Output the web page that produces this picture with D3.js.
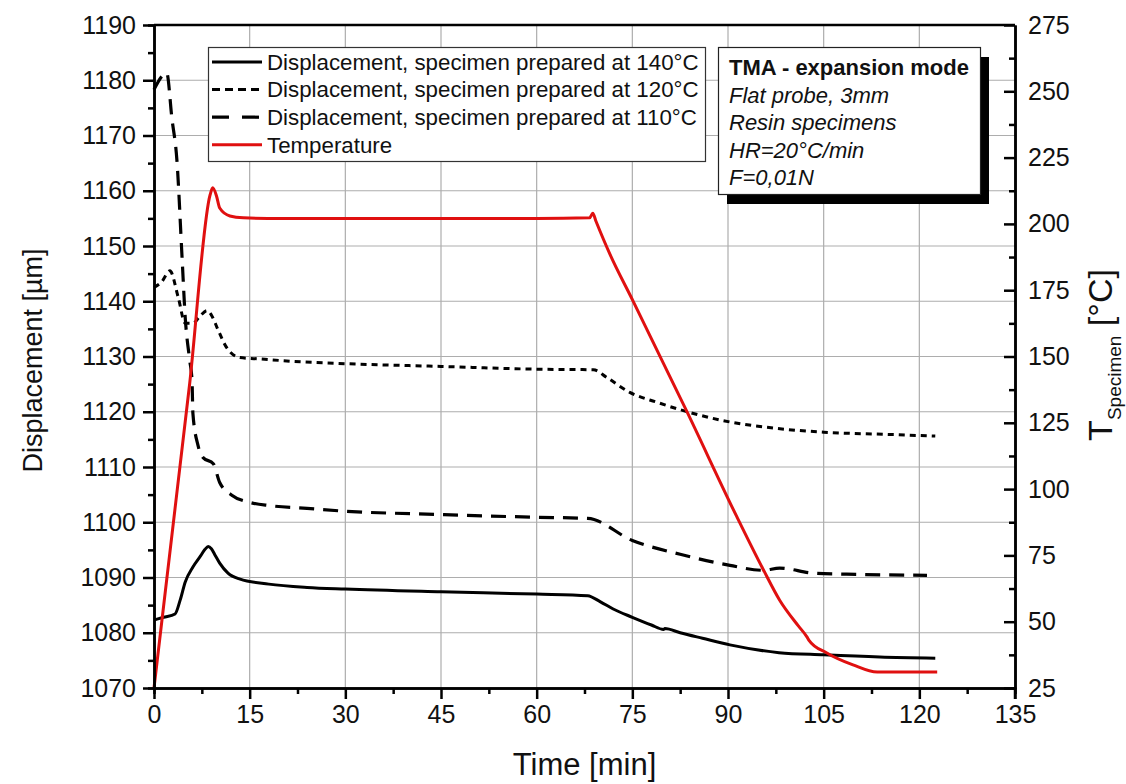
<!DOCTYPE html>
<html>
<head>
<meta charset="utf-8">
<script src="https://cdn.jsdelivr.net/npm/d3@7"></script>
<style>
  html, body { margin: 0; padding: 0; background: #fff; }
  svg { display: block; font-family: "Liberation Sans", Arial, sans-serif; }
</style>
</head>
<body>
<svg id="chart" width="1126" height="784"></svg>
<script>
// Time axis [min]
const xTicks = [0, 15, 30, 45, 60, 75, 90, 105, 120, 135];
// Displacement axis [µm]
const yLeftTicks = [1070, 1080, 1090, 1100, 1110, 1120, 1130, 1140, 1150, 1160, 1170, 1180, 1190];
// Specimen temperature axis [°C]
const yRightTicks = [25, 50, 75, 100, 125, 150, 175, 200, 225, 250, 275];

// Specimen prepared at 140°C
const time140 = [0, 1.5, 3.3, 4.1, 4.9, 6.1, 7.3, 8.0, 8.5, 9.0, 9.6, 10.3, 11.6, 13.5, 18, 24, 30, 45, 60, 68, 70, 72, 75, 78, 79.9, 80.1, 82.5, 86, 90.3, 98, 105, 113.8, 122.5];
const disp140 = [1082.3, 1082.8, 1083.4, 1085.9, 1089.2, 1091.9, 1093.9, 1095.1, 1095.6, 1095.2, 1094.0, 1092.6, 1090.8, 1089.7, 1088.8, 1088.2, 1087.9, 1087.4, 1087.0, 1086.7, 1085.6, 1084.3, 1082.8, 1081.4, 1080.6, 1080.75, 1080.0, 1079.0, 1077.8, 1076.4, 1076.0, 1075.6, 1075.4];

// Specimen prepared at 120°C
const time120 = [0, 1.2, 2.5, 3.8, 4.9, 6.1, 7.2, 8.3, 9.1, 9.9, 11.4, 13.5, 16.1, 22, 30, 45, 60, 68.9, 71, 74.6, 78.9, 83.6, 89.2, 97.5, 105, 115, 122.5];
const disp120 = [1142.5, 1143.5, 1145.5, 1140.7, 1136.0, 1136.0, 1137.3, 1138.3, 1137.3, 1135.2, 1131.6, 1129.8, 1129.6, 1129.1, 1128.7, 1128.2, 1127.7, 1127.6, 1126.2, 1123.5, 1121.7, 1120.0, 1118.4, 1117.0, 1116.3, 1115.9, 1115.6];

// Specimen prepared at 110°C
const time110 = [0, 2, 2.8, 3.6, 4.4, 4.9, 5.6, 5.96, 6.1, 6.9, 7.7, 9.3, 10.3, 12.2, 15, 18.2, 24, 30, 45, 60, 68, 75, 82.5, 90.3, 95.5, 98.1, 103.3, 108.6, 121.2];
const disp110 = [1178.3, 1181.3, 1173.2, 1165.4, 1147.9, 1137.0, 1129.3, 1125.7, 1119.7, 1113.9, 1111.7, 1110.6, 1107.2, 1104.9, 1103.6, 1103.0, 1102.5, 1102.0, 1101.4, 1100.9, 1100.7, 1096.7, 1094.2, 1092.2, 1091.3, 1091.7, 1090.8, 1090.6, 1090.4];

// Specimen temperature
const timeT = [0, 5.6, 8.8, 9.2, 9.8, 10.3, 11.9, 14, 20, 40, 60, 68.3, 68.8, 69.3, 71.5, 75.1, 83.6, 91.4, 95.5, 98.1, 101, 102.4, 102.7, 105.5, 109.6, 113.4, 116, 122.8];
const tempT = [25, 139.9, 211, 213.6, 210.5, 206, 203, 202.3, 202, 202, 202, 202.3, 204, 201, 188.5, 171, 129, 89.5, 69.8, 58.1, 48.5, 44.2, 43, 38.2, 33.7, 31, 31, 31];

const legendLabels = [
  "Displacement, specimen prepared at 140°C",
  "Displacement, specimen prepared at 120°C",
  "Displacement, specimen prepared at 110°C",
  "Temperature"
];
const noteLines = ["Flat probe, 3mm", "Resin specimens", "HR=20°C/min", "F=0,01N"];

const svg = d3.select("#chart");
const L = 154, R = 1015, T = 25, B = 688;

const x = d3.scaleLinear().domain([0, 135]).range([L, R]);
const yL = d3.scaleLinear().domain([1070, 1190]).range([B, T]);
const yR = d3.scaleLinear().domain([25, 275]).range([B, T]);

// grid
const grid = svg.append("g").attr("stroke", "#adadad").attr("stroke-width", 1.2);
grid.selectAll("line.v").data(xTicks.slice(1, -1)).join("line")
  .attr("x1", d => x(d)).attr("x2", d => x(d)).attr("y1", T).attr("y2", B);
grid.selectAll("line.h").data(yLeftTicks.slice(1, -1)).join("line")
  .attr("x1", L).attr("x2", R).attr("y1", d => yL(d)).attr("y2", d => yL(d));

// top frame
svg.append("line").attr("x1", L).attr("x2", R).attr("y1", T).attr("y2", T)
  .attr("stroke", "#000").attr("stroke-width", 2.5);

// curves
const series = [
  { t: time140, v: disp140, y: yL, color: "#000", dash: null, w: 3 },
  { t: time120, v: disp120, y: yL, color: "#000", dash: "6,5", w: 3 },
  { t: time110, v: disp110, y: yL, color: "#000", dash: "15,9", w: 3.2 },
  { t: timeT, v: tempT, y: yR, color: "#e01010", dash: null, w: 3 }
];
series.forEach(s => {
  const pts = s.t.map((t, i) => [t, s.v[i]]);
  const line = d3.line().x(d => x(d[0])).y(d => s.y(d[1])).curve(d3.curveMonotoneX);
  svg.append("path").datum(pts).attr("d", line)
    .attr("fill", "none").attr("stroke", s.color).attr("stroke-width", s.w)
    .attr("stroke-linejoin", "round")
    .attr("stroke-dasharray", s.dash);
});

// axes
function styleAxis(g) {
  g.selectAll(".domain").attr("stroke", "#000").attr("stroke-width", 2.5);
  g.selectAll(".tick line").attr("stroke", "#000").attr("stroke-width", 2.5);
  g.selectAll(".tick text").attr("fill", "#111").style("font-size", "25px")
    .style("font-family", "'Liberation Sans', Arial, sans-serif");
}
const minorX = d3.range(7.5, 135, 15);
const minorYL = d3.range(1075, 1190, 10);
const minorYR = d3.range(37.5, 275, 25);

svg.append("g").attr("transform", `translate(0,${B})`)
  .call(d3.axisBottom(x).tickValues(minorX).tickSize(6).tickFormat(""))
  .call(styleAxis);
svg.append("g").attr("transform", `translate(0,${B})`)
  .call(d3.axisBottom(x).tickValues(xTicks).tickSizeInner(11).tickSizeOuter(0).tickPadding(6).tickFormat(d3.format("d")))
  .call(styleAxis);

svg.append("g").attr("transform", `translate(${L},0)`)
  .call(d3.axisLeft(yL).tickValues(minorYL).tickSize(6).tickFormat(""))
  .call(styleAxis);
svg.append("g").attr("transform", `translate(${L},0)`)
  .call(d3.axisLeft(yL).tickValues(yLeftTicks).tickSizeInner(11).tickSizeOuter(0).tickPadding(7).tickFormat(d3.format("d")))
  .call(styleAxis);

svg.append("g").attr("transform", `translate(${R},0)`)
  .call(d3.axisRight(yR).tickValues(minorYR).tickSizeInner(-6).tickSizeOuter(0).tickFormat(""))
  .call(styleAxis);
svg.append("g").attr("transform", `translate(${R},0)`)
  .call(d3.axisRight(yR).tickValues(yRightTicks).tickSizeInner(-11).tickSizeOuter(0).tickPadding(13).tickFormat(d3.format("d")))
  .call(styleAxis);
// extension of the right axis below the plot
svg.append("line").attr("x1", R).attr("x2", R).attr("y1", B).attr("y2", B + 11)
  .attr("stroke", "#000").attr("stroke-width", 2.5);

// axis titles
svg.append("text").attr("transform", `translate(42,${(T + B) / 2 + 4}) rotate(-90)`)
  .attr("text-anchor", "middle").style("font-size", "27px").attr("fill", "#111")
  .text("Displacement [µm]");
svg.append("text").attr("x", (L + R) / 2).attr("y", 775)
  .attr("text-anchor", "middle").style("font-size", "31px").attr("fill", "#111")
  .text("Time [min]");
const rt = svg.append("text").attr("transform", `translate(1112,355) rotate(-90)`)
  .attr("text-anchor", "middle").style("font-size", "34px").attr("fill", "#111");
rt.append("tspan").text("T");
rt.append("tspan").attr("dy", 9).style("font-size", "19px").text("Specimen");
rt.append("tspan").attr("dy", -9).text(" [°C]");

// legend
const lg = svg.append("g");
lg.append("rect").attr("x", 208.5).attr("y", 47.5).attr("width", 497).attr("height", 114)
  .attr("fill", "#fff").attr("stroke", "#333").attr("stroke-width", 1.2);
series.forEach((s, i) => {
  const yy = 62 + i * 27.6;
  lg.append("line").attr("x1", 212).attr("x2", 262).attr("y1", yy).attr("y2", yy)
    .attr("stroke", s.color).attr("stroke-width", s.w)
    .attr("stroke-dasharray", i === 1 ? "8,5" : i === 2 ? "17,13" : null);
  lg.append("text").attr("x", 267).attr("y", yy).attr("dy", "0.35em")
    .style("font-size", "22.3px").attr("fill", "#111").text(legendLabels[i]);
});

// annotation box with drop shadow
const nb = svg.append("g");
nb.append("rect").attr("x", 727).attr("y", 57).attr("width", 262).attr("height", 147).attr("fill", "#000");
nb.append("rect").attr("x", 718.5).attr("y", 47.5).attr("width", 262).attr("height", 147)
  .attr("fill", "#fff").attr("stroke", "#222").attr("stroke-width", 1.2);
nb.append("text").attr("x", 729).attr("y", 67).attr("dy", "0.35em")
  .style("font-size", "22px").style("font-weight", "bold").attr("fill", "#111")
  .text("TMA - expansion mode");
noteLines.forEach((t, i) => {
  nb.append("text").attr("x", 729).attr("y", 95 + i * 27.5).attr("dy", "0.35em")
    .style("font-size", "22px").style("font-style", "italic").attr("fill", "#111").text(t);
});
</script>
</body>
</html>
